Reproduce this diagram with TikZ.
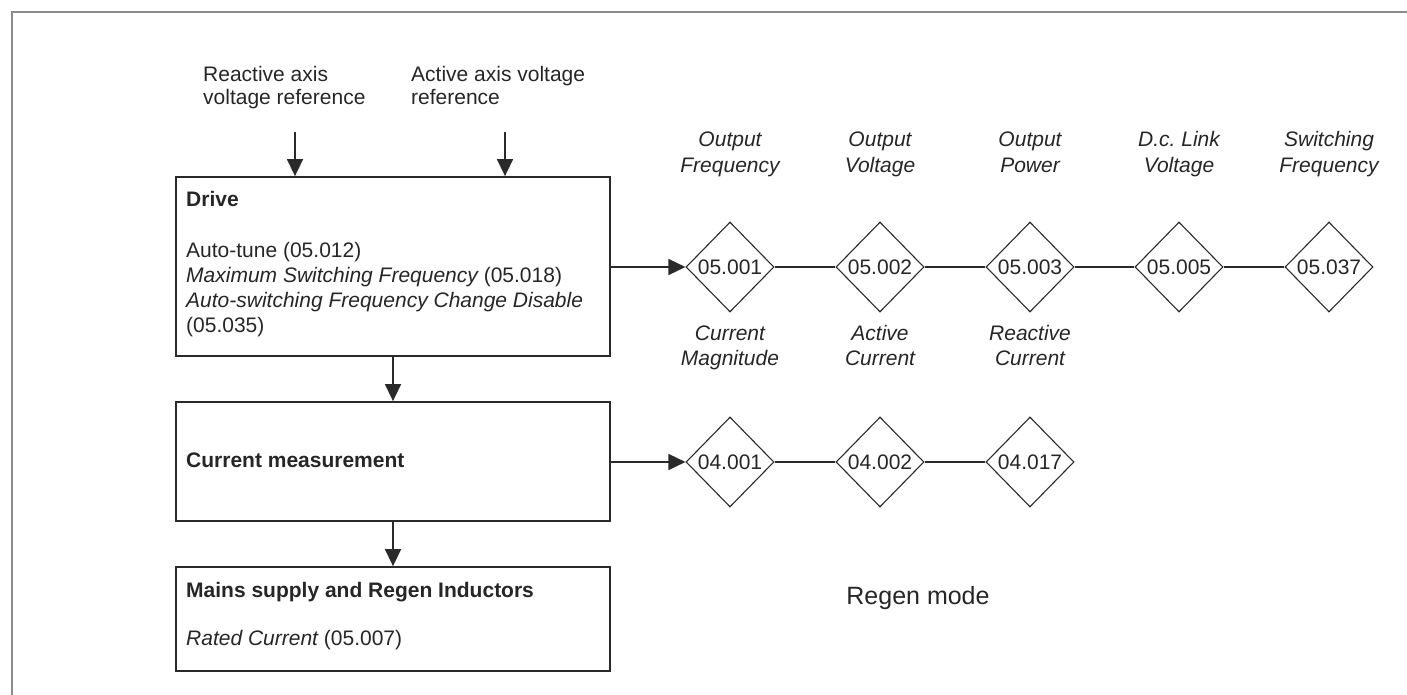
\documentclass[tikz,border=0pt]{standalone}
\usepackage{fontspec}
\setmainfont{Liberation Sans}
\usetikzlibrary{shapes.geometric,arrows.meta}
\definecolor{framegray}{HTML}{8C8C8C}
\definecolor{linegray}{HTML}{2A2A2A}
\definecolor{txt}{HTML}{262626}
\frenchspacing
\tikzset{
  blk/.style={draw=linegray,line width=1.8pt,minimum width=434pt,inner sep=0pt},
  txtl/.style={anchor=base west,inner sep=0pt,text=txt,font=\fontsize{21}{25}\selectfont},
  lbl/.style={anchor=base,inner sep=0pt,text=txt,font=\fontsize{21}{25}\selectfont\itshape,align=center},
  par/.style={shape=diamond,draw=linegray,line width=1.1pt,minimum width=88pt,minimum height=90pt,inner sep=0pt,text=txt,font=\fontsize{21}{25}\selectfont},
  conn/.style={draw=linegray,line width=1.5pt},
  arr/.style={conn,-{Triangle[width=16pt,length=17pt]}}
}
\begin{document}
\begin{tikzpicture}[x=1pt,y=-1pt]
\useasboundingbox (0,0) rectangle (1407,695);
% frame
\draw[framegray,line width=2.2pt] (12,695) -- (12,12) -- (1407,12);
% input labels
\node[txtl] (reac1) at (203,82) {Reactive axis};
\node[txtl] (reac2) at (203,105) {voltage reference};
\node[txtl] (act1) at (411,82) {Active axis voltage};
\node[txtl] (act2) at (411,105) {reference};
\coordinate (inA) at (295,132);
\coordinate (inB) at (505,132);
% boxes
\node[blk,minimum height=179pt] (drive) at (393,266.5) {};
\node[blk,minimum height=119pt] (curr) at (393,461.5) {};
\node[blk,minimum height=104pt] (mains) at (393,619) {};
% box texts
\node[txtl,font=\fontsize{21}{25}\selectfont\bfseries] (tdrive) at (186,206) {Drive};
\node[txtl] (t1) at (186,257) {Auto-tune (05.012)};
\node[txtl] (t2) at (186,282) {\itshape Maximum Switching Frequency\upshape\ (05.018)};
\node[txtl] (t3) at (186,307) {\itshape Auto-switching Frequency Change Disable};
\node[txtl] (t4) at (186,332) {(05.035)};
\node[txtl,font=\fontsize{21}{25}\selectfont\bfseries] (tcurr) at (186,467) {Current measurement};
\node[txtl,font=\fontsize{21}{25}\selectfont\bfseries] (tmains) at (186,597) {Mains supply and Regen Inductors};
\node[txtl] (tmains2) at (186,645) {\itshape Rated Current\upshape\ (05.007)};
% arrows between boxes
\draw[arr] (inA) -- (inA |- drive.north);
\draw[arr] (inB) -- (inB |- drive.north);
\draw[arr] (drive.south) -- (curr.north);
\draw[arr] (curr.south) -- (mains.north);
% row 1 diamonds
\node[par] (p1) at (730,267) {05.001};
\node[par] (p2) at (880,267) {05.002};
\node[par] (p3) at (1030,267) {05.003};
\node[par] (p4) at (1179,267) {05.005};
\node[par] (p5) at (1329,267) {05.037};
\node[lbl] (l1) at (730,172) {Output\\Frequency};
\node[lbl] (l2) at (880,172) {Output\\Voltage};
\node[lbl] (l3) at (1030,172) {Output\\Power};
\node[lbl] (l4) at (1179,172) {D.c. Link\\Voltage};
\node[lbl] (l5) at (1329,172) {Switching\\Frequency};
\draw[arr] (drive.east |- p1.west) -- (p1.west);
\draw[conn] (p1.east) -- (p2.west);
\draw[conn] (p2.east) -- (p3.west);
\draw[conn] (p3.east) -- (p4.west);
\draw[conn] (p4.east) -- (p5.west);
% row 2 diamonds
\node[par] (q1) at (730,462) {04.001};
\node[par] (q2) at (880,462) {04.002};
\node[par] (q3) at (1030,462) {04.017};
\node[lbl] (m1) at (730,365) {Current\\Magnitude};
\node[lbl] (m2) at (880,365) {Active\\Current};
\node[lbl] (m3) at (1030,365) {Reactive\\Current};
\draw[arr] (curr.east |- q1.west) -- (q1.west);
\draw[conn] (q1.east) -- (q2.west);
\draw[conn] (q2.east) -- (q3.west);
% mode label
\node[anchor=base,inner sep=0pt,text=txt,font=\fontsize{25}{30}\selectfont] (mode) at (918,604) {Regen mode};
\end{tikzpicture}
\end{document}
